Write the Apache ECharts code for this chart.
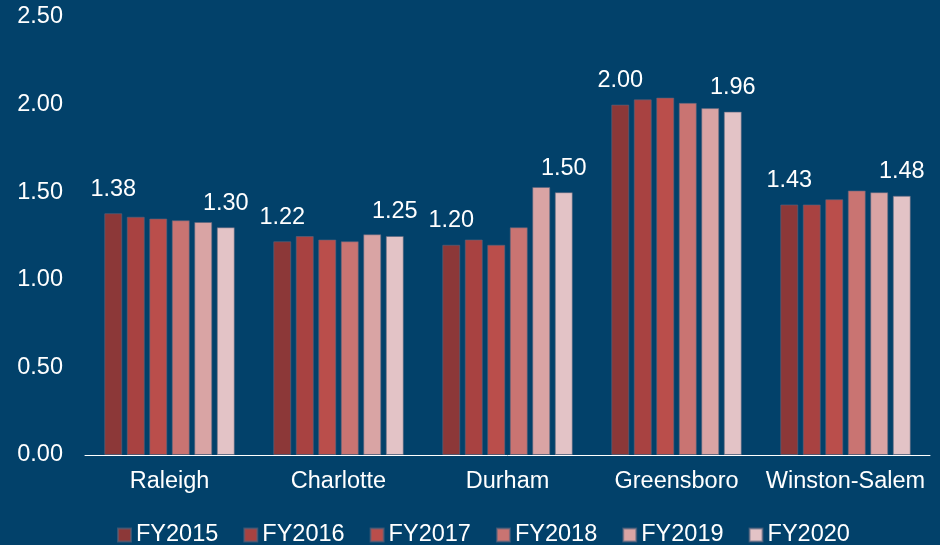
<!DOCTYPE html>
<html>
<head>
<meta charset="utf-8">
<script src="https://cdn.jsdelivr.net/npm/echarts@6/dist/echarts.min.js"></script>
<style>
  html, body { margin: 0; padding: 0; background: #02416a; }
  #chart { width: 940px; height: 545px; }
</style>
</head>
<body>
<div id="chart"></div>
<script>
let cities = ['Raleigh', 'Charlotte', 'Durham', 'Greensboro', 'Winston-Salem']
let years = ['FY2015', 'FY2016', 'FY2017', 'FY2018', 'FY2019', 'FY2020']
let fy2015 = [1.38, 1.22, 1.20, 2.00, 1.43]
let fy2016 = [1.36, 1.25, 1.23, 2.03, 1.43]
let fy2017 = [1.35, 1.23, 1.20, 2.04, 1.46]
let fy2018 = [1.34, 1.22, 1.30, 2.01, 1.51]
let fy2019 = [1.33, 1.26, 1.53, 1.98, 1.50]
let fy2020 = [1.30, 1.25, 1.50, 1.96, 1.48]
let yTicks = [0, 0.5, 1, 1.5, 2, 2.5]

let colors = ['#8c3838', '#a84241', '#ba4e4b', '#c97472', '#d9a4a4', '#e3c3c6']
let values = [fy2015, fy2016, fy2017, fy2018, fy2019, fy2020]
let font = 'Liberation Sans, Arial, sans-serif'
let fs = 23.5

let series = years.map(function(name, i) {
    // only first and last year carry value labels
    let showLabel = i === 0 || i === years.length - 1
    return {
        name: name,
        type: 'bar',
        data: values[i],
        barWidth: 18,
        barGap: '25%',
        itemStyle: { color: colors[i], borderColor: 'rgba(90,100,125,0.6)', borderWidth: 1 },
        label: {
            show: showLabel,
            position: 'top',
            distance: 12,
            color: '#ffffff',
            fontSize: fs,
            fontFamily: font,
            formatter: function(p) { return p.value.toFixed(2) }
        }
    }
})

let myChart = echarts.init(document.getElementById('chart'), null, { renderer: 'canvas' })
myChart.setOption({
    backgroundColor: '#02416a',
    animation: false,
    grid: { left: 85, right: 10, top: 17, bottom: 90 },
    legend: {
        data: years,
        left: 117,
        top: 523,
        padding: 0,
        icon: 'rect',
        itemWidth: 13,
        itemHeight: 13,
        itemGap: 25,
        textStyle: { color: '#ffffff', fontSize: fs, fontFamily: font }
    },
    xAxis: {
        type: 'category',
        data: cities,
        axisLine: { lineStyle: { color: '#ffffff', width: 1 } },
        axisTick: { show: false },
        axisLabel: { interval: 0, color: '#ffffff', fontSize: fs, fontFamily: font, margin: 15 }
    },
    yAxis: {
        type: 'value',
        min: yTicks[0],
        max: yTicks[yTicks.length - 1],
        interval: 0.5,
        splitLine: { show: false },
        axisLine: { show: false },
        axisTick: { show: false },
        axisLabel: {
            color: '#ffffff',
            fontSize: fs,
            fontFamily: font,
            margin: 22,
            formatter: function(v) { return v.toFixed(2) }
        }
    },
    series: series
})
</script>
</body>
</html>
